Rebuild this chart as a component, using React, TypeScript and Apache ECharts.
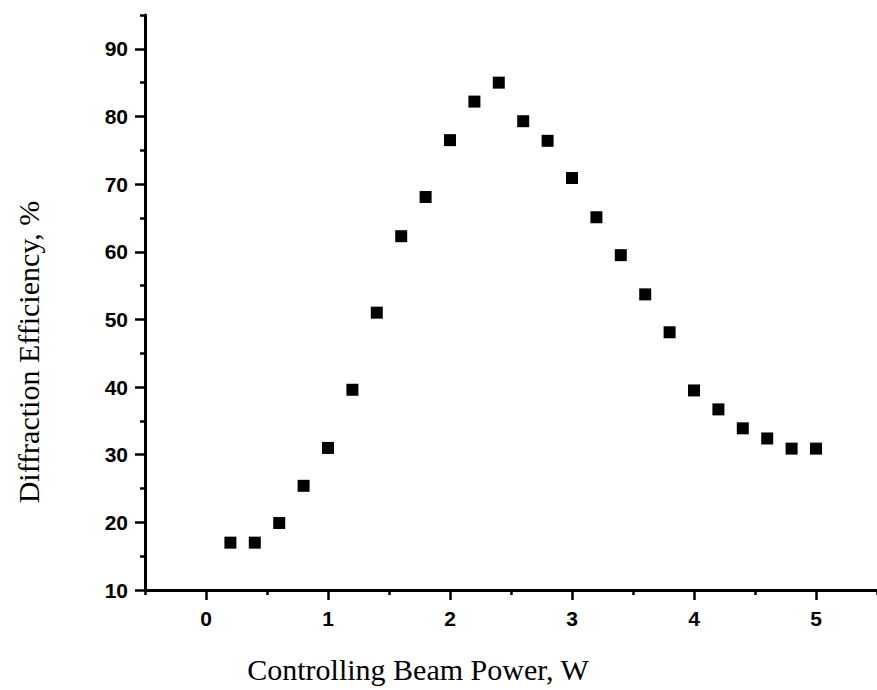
import React, { useEffect, useRef } from "react";
import * as echarts from "echarts";

const powerW = [0.2, 0.4, 0.6, 0.8, 1.0, 1.2, 1.4, 1.6, 1.8, 2.0, 2.2, 2.4, 2.6, 2.8, 3.0, 3.2, 3.4, 3.6, 3.8, 4.0, 4.2, 4.4, 4.6, 4.8, 5.0];
const efficiency = [17.0, 17.0, 19.9, 25.4, 31.0, 39.6, 51.0, 62.3, 68.1, 76.5, 82.2, 85.0, 79.3, 76.4, 70.9, 65.1, 59.5, 53.7, 48.1, 39.5, 36.7, 33.9, 32.4, 30.9, 30.9];

const xMajorTicks = [0, 1, 2, 3, 4, 5];
const xMinorTicks = [-0.5, 0.5, 1.5, 2.5, 3.5, 4.5, 5.5];
const yMajorTicks = [10, 20, 30, 40, 50, 60, 70, 80, 90];
const yMinorTicks = [15, 25, 35, 45, 55, 65, 75, 85, 95];

const xTitle = "Controlling Beam Power, W";
const yTitle = "Diffraction Efficiency, %";

export default function App() {
  const ref = useRef<HTMLDivElement>(null);

  useEffect(() => {
    if (!ref.current) return;
    const chart = echarts.init(ref.current, null, { renderer: "svg" });
    const labelStyle = {
      color: "#000",
      fontFamily: "Liberation Sans, Arial, sans-serif",
      fontWeight: "bold" as const,
      fontSize: 21,
    };
    chart.setOption({
      animation: false,
      backgroundColor: "#fff",
      grid: { left: 145, right: -2, top: 15, bottom: 100, containLabel: false },
      xAxis: [
        {
          type: "value",
          min: -0.5,
          max: 5.5,
          position: "bottom",
          axisLine: { show: true, onZero: false, lineStyle: { color: "#000", width: 3 } },
          axisTick: { show: true, customValues: xMajorTicks, length: 10, lineStyle: { color: "#000", width: 2.5 } },
          axisLabel: { show: true, customValues: xMajorTicks, margin: 18, ...labelStyle },
          splitLine: { show: false },
        },
        {
          type: "value",
          min: -0.5,
          max: 5.5,
          position: "bottom",
          axisLine: { show: false, onZero: false },
          axisTick: { show: true, customValues: xMinorTicks, length: 5, lineStyle: { color: "#000", width: 2.5 } },
          axisLabel: { show: false },
          splitLine: { show: false },
        },
      ],
      yAxis: [
        {
          type: "value",
          min: 10,
          max: 95,
          position: "left",
          axisLine: { show: true, onZero: false, lineStyle: { color: "#000", width: 3 } },
          axisTick: { show: true, customValues: yMajorTicks, length: 10, lineStyle: { color: "#000", width: 2.5 } },
          axisLabel: { show: true, customValues: yMajorTicks, margin: 17, ...labelStyle },
          splitLine: { show: false },
        },
        {
          type: "value",
          min: 10,
          max: 95,
          position: "left",
          axisLine: { show: false, onZero: false },
          axisTick: { show: true, customValues: yMinorTicks, length: 5, lineStyle: { color: "#000", width: 2.5 } },
          axisLabel: { show: false },
          splitLine: { show: false },
        },
      ],
      series: [
        {
          type: "scatter",
          xAxisIndex: 0,
          yAxisIndex: 0,
          symbol: "rect",
          symbolSize: 12,
          itemStyle: { color: "#000", opacity: 1 },
          data: powerW.map((x, i) => [x, efficiency[i]]),
        },
      ],
      graphic: [
        {
          type: "text",
          x: 418,
          y: 669,
          style: {
            text: xTitle,
            fill: "#000",
            font: "30px 'Liberation Serif', 'Times New Roman', serif",
            textAlign: "center",
            textVerticalAlign: "middle",
          },
        },
        {
          type: "text",
          x: 28,
          y: 352,
          rotation: Math.PI / 2,
          style: {
            text: yTitle,
            fill: "#000",
            font: "30px 'Liberation Serif', 'Times New Roman', serif",
            textAlign: "center",
            textVerticalAlign: "middle",
          },
        },
      ],
    });
    return () => chart.dispose();
  }, []);

  return (
    <div
      ref={ref}
      style={{ position: "fixed", left: 0, top: 0, width: 877, height: 690, background: "#fff" }}
    />
  );
}
